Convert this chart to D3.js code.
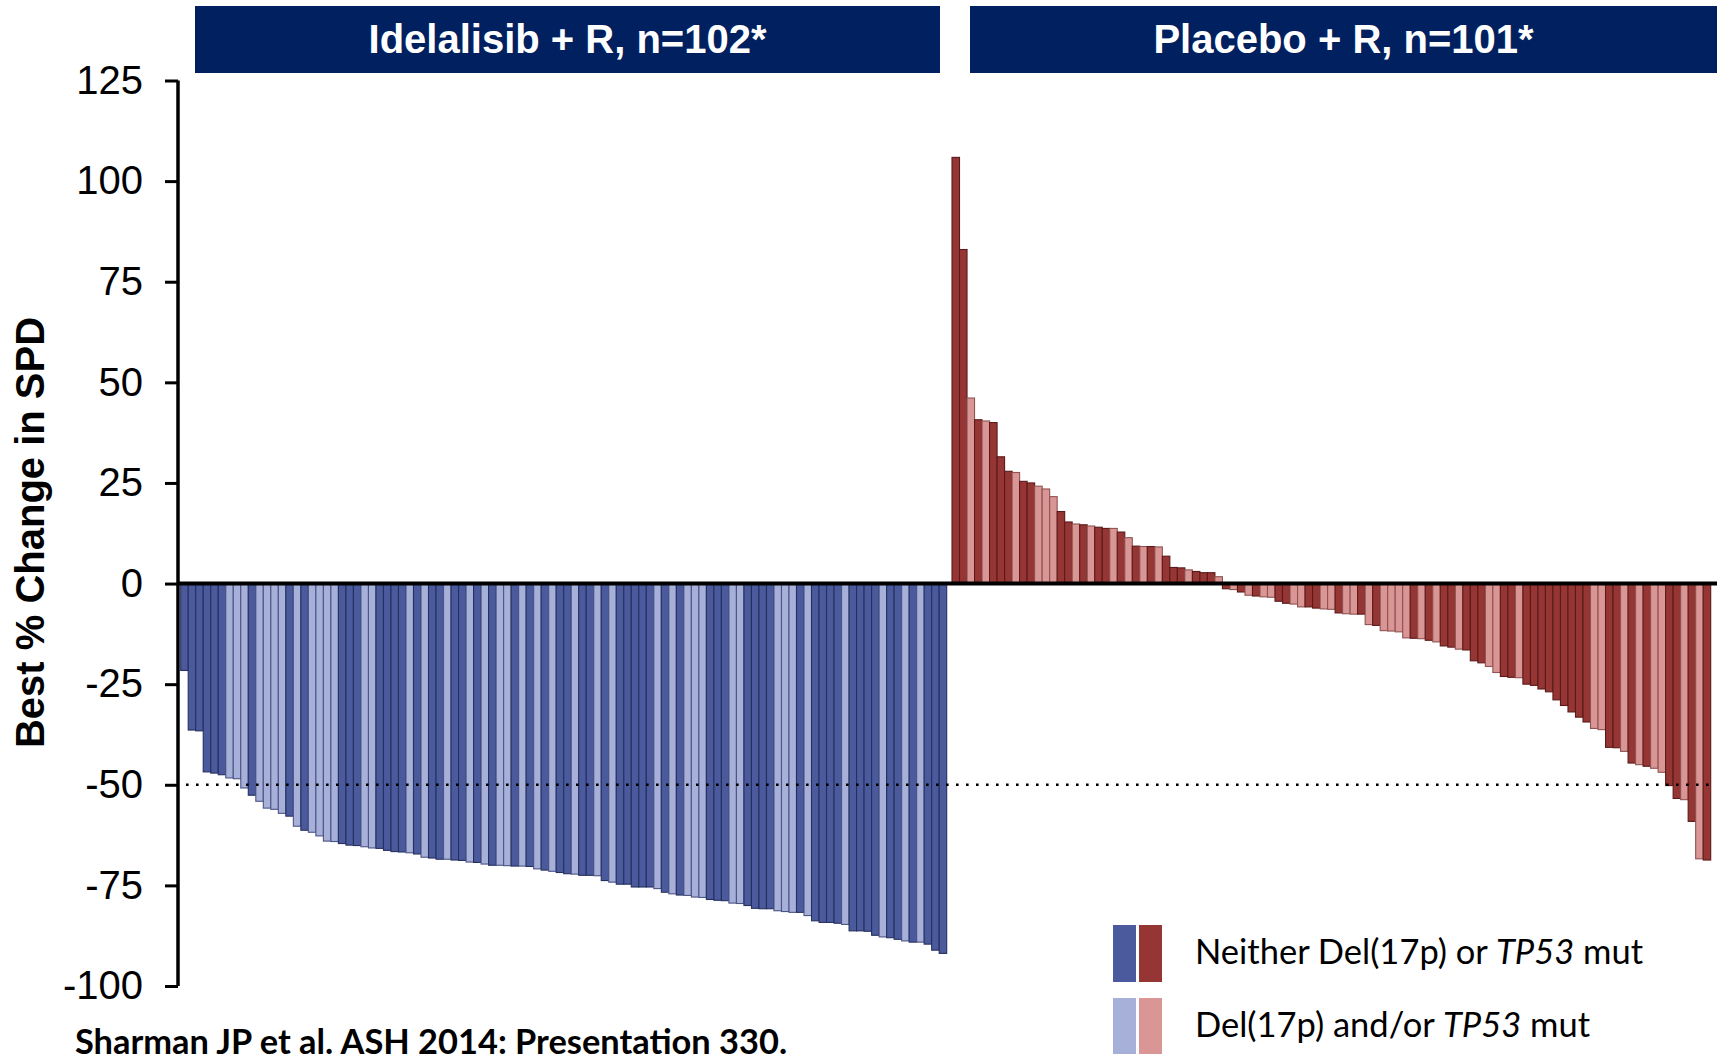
<!DOCTYPE html>
<html>
<head>
<meta charset="utf-8">
<script src="https://cdn.jsdelivr.net/npm/d3@7"></script>
<style>
  html, body { margin: 0; padding: 0; background: #fff; }
  svg { display: block; }
</style>
</head>
<body>
<svg id="chart" width="1720" height="1054"></svg>
<script>
// Best % change in SPD per patient, sorted, for each arm.
// Group: "N" = neither Del(17p) nor TP53 mutation, "D" = Del(17p) and/or TP53 mutation.
const idelalisibValues = [
  -21.6, -36.4, -36.6, -46.8, -47.1, -47.5, -48.3, -48.5, -50.8, -52.6,
  -54.1, -55.8, -56.1, -57.1, -57.8, -60.3, -61.3, -61.8, -62.7, -64.0,
  -64.1, -64.6, -65.0, -65.1, -65.4, -65.7, -65.8, -66.3, -66.6, -66.7,
  -66.9, -67.2, -68.0, -68.2, -68.5, -68.5, -68.7, -68.8, -69.2, -69.3,
  -69.7, -70.0, -70.0, -70.1, -70.2, -70.2, -70.3, -70.9, -71.2, -71.5,
  -71.8, -72.1, -72.2, -72.5, -72.5, -72.6, -73.8, -74.2, -74.7, -74.7,
  -75.4, -75.4, -75.4, -75.8, -76.7, -77.1, -77.4, -77.5, -77.9, -78.0,
  -78.5, -78.7, -78.8, -79.4, -79.5, -80.0, -80.7, -80.8, -80.8, -81.3,
  -81.5, -81.7, -81.7, -82.5, -83.8, -84.2, -84.2, -84.4, -84.7, -86.3,
  -86.3, -86.4, -87.4, -87.8, -88.0, -88.4, -88.8, -89.1, -89.1, -89.6,
  -91.1, -91.9
];
const idelalisibGroups = [
  "N","N","N","N","N","N","D","D","D","N",
  "D","D","D","D","N","D","N","D","D","D",
  "D","N","N","N","D","D","N","N","N","N",
  "D","N","D","N","N","D","N","N","D","N",
  "D","N","D","D","N","D","N","D","N","D",
  "N","N","D","N","N","D","N","D","N","N",
  "N","N","N","D","N","D","N","D","D","D",
  "N","N","N","D","D","N","N","N","N","D",
  "D","D","N","D","N","N","N","N","D","N",
  "N","N","N","D","N","N","D","N","D","N",
  "N","N"
];

const placeboValues = [
  105.9, 83.0, 46.1, 40.7, 40.4, 40.0, 31.5, 27.9, 27.6, 25.4,
  25.0, 24.2, 23.5, 21.6, 17.9, 15.3, 14.8, 14.6, 14.3, 14.0,
  13.7, 13.7, 12.8, 11.4, 9.3, 9.2, 9.2, 9.1, 6.8, 4.0,
  3.9, 3.4, 3.0, 2.7, 2.7, 1.7, -1.3, -1.5, -2.1, -2.9,
  -3.1, -3.3, -3.4, -4.4, -4.9, -5.1, -5.8, -5.8, -6.1, -6.3,
  -6.4, -7.3, -7.5, -7.6, -7.6, -10.2, -10.4, -11.7, -11.8, -12.0,
  -13.5, -13.6, -13.7, -14.1, -14.5, -15.5, -15.8, -16.3, -16.5, -19.2,
  -19.7, -20.6, -22.1, -23.1, -23.3, -23.4, -25.0, -25.3, -26.2, -26.9,
  -28.9, -30.3, -31.9, -33.2, -34.4, -36.0, -36.3, -40.7, -40.8, -41.7,
  -44.6, -45.0, -45.4, -45.9, -46.9, -50.2, -53.4, -53.7, -59.1, -68.4,
  -68.7
];
const placeboGroups = [
  "N","N","D","N","D","N","N","N","D","N",
  "N","D","D","D","N","N","D","N","D","N",
  "N","D","N","D","N","D","N","D","N","N",
  "N","D","N","N","N","D","N","D","N","D",
  "N","D","D","N","N","D","D","N","N","D",
  "D","N","D","D","N","D","N","D","D","D",
  "D","N","D","N","D","N","N","D","N","N",
  "N","D","D","N","N","D","N","N","N","N",
  "N","N","N","N","N","D","D","N","N","D",
  "N","D","N","D","D","N","N","D","N","D",
  "N"
];

const armTitles = ["Idelalisib + R, n=102*", "Placebo + R, n=101*"];
const yTickValues = [125, 100, 75, 50, 25, 0, -25, -50, -75, -100];
const yAxisTitle = "Best % Change in SPD";
const responseThreshold = -50;
const legendRows = [
  { pre: "Neither Del(17p) or ", italic: "TP53", post: " mut", group: "N" },
  { pre: "Del(17p) and/or ", italic: "TP53", post: " mut", group: "D" }
];
const footnote = "Sharman JP et al. ASH 2014: Presentation 330.";

// Colours
const fills = {
  blue: { N: "#4a5a9d", D: "#a7b0d8" },
  red:  { N: "#963634", D: "#da9694" }
};
const strokes = {
  blue: { N: "#26305e", D: "#4c5585" },
  red:  { N: "#5a1a1a", D: "#8e5352" }
};
const navy = "#002060";

const svg = d3.select("#chart");

// Scales
const y = d3.scaleLinear().domain([-100, 125]).range([986, 80.5]);
const xIdela = d3.scaleBand().domain(d3.range(idelalisibValues.length)).range([180.7, 946.7]).paddingInner(0);
const xPlacebo = d3.scaleBand().domain(d3.range(placeboValues.length)).range([952, 1710.7]).paddingInner(0);

// Arm header boxes
const headers = [
  { x0: 195, x1: 940, text: armTitles[0] },
  { x0: 970, x1: 1717, text: armTitles[1] }
];
const hg = svg.append("g");
hg.selectAll("rect").data(headers).join("rect")
  .attr("x", d => d.x0).attr("y", 6)
  .attr("width", d => d.x1 - d.x0).attr("height", 67)
  .attr("fill", navy);
hg.selectAll("text").data(headers).join("text")
  .attr("x", d => (d.x0 + d.x1) / 2).attr("y", 53)
  .attr("text-anchor", "middle")
  .attr("fill", "#fff")
  .attr("font-family", "'Liberation Sans', Arial, sans-serif")
  .attr("font-weight", "bold")
  .attr("font-size", 40)
  .text(d => d.text);

// Bars
function drawBars(values, groups, x, palette) {
  const data = values.map((v, i) => ({ i, v, g: groups[i] }));
  svg.append("g").selectAll("rect").data(data).join("rect")
    .attr("x", d => x(d.i))
    .attr("width", x.bandwidth())
    .attr("y", d => y(Math.max(0, d.v)))
    .attr("height", d => Math.abs(y(d.v) - y(0)))
    .attr("fill", d => fills[palette][d.g])
    .attr("stroke", d => strokes[palette][d.g])
    .attr("stroke-width", 1.1);
}
drawBars(idelalisibValues, idelalisibGroups, xIdela, "blue");
drawBars(placeboValues, placeboGroups, xPlacebo, "red");

// 50% reduction reference line
svg.append("line")
  .attr("x1", 186).attr("x2", 1712)
  .attr("y1", y(responseThreshold)).attr("y2", y(responseThreshold))
  .attr("stroke", "#000")
  .attr("stroke-width", 2.6)
  .attr("stroke-dasharray", "2.6,7.4");

// Zero line
svg.append("line")
  .attr("x1", 178).attr("x2", 1717)
  .attr("y1", y(0)).attr("y2", y(0))
  .attr("stroke", "#000").attr("stroke-width", 4);

// Y axis
const yAxis = d3.axisLeft(y).tickValues(yTickValues).tickSize(13).tickPadding(22)
  .tickFormat(d => String(d));
const ax = svg.append("g").attr("transform", "translate(178,0)").call(yAxis);
ax.select(".domain").attr("stroke", "#000").attr("stroke-width", 3.5)
  .attr("d", `M0,${y(125)}V${y(-100)}`);
ax.selectAll(".tick line").attr("stroke", "#000").attr("stroke-width", 3);
ax.selectAll(".tick text")
  .attr("fill", "#000")
  .attr("font-family", "'Liberation Sans', Arial, sans-serif")
  .attr("font-size", 40);

// Y axis title
svg.append("text")
  .attr("transform", `translate(44,${(318 + 747) / 2}) rotate(-90)`)
  .attr("text-anchor", "middle")
  .attr("font-family", "'Liberation Sans', Arial, sans-serif")
  .attr("font-weight", "bold")
  .attr("font-size", 40)
  .attr("fill", "#000")
  .text(yAxisTitle);

// Legend
const lg = svg.append("g");
legendRows.forEach((row, k) => {
  const top = 925 + k * 73;
  lg.append("rect").attr("x", 1113).attr("y", top).attr("width", 23).attr("height", 57)
    .attr("fill", fills.blue[row.group]);
  lg.append("rect").attr("x", 1139).attr("y", top).attr("width", 23).attr("height", 57)
    .attr("fill", fills.red[row.group]);
  const t = lg.append("text")
    .attr("x", 1195).attr("y", top + 39)
    .attr("font-family", "Lato, 'Open Sans', sans-serif")
    .attr("font-size", 34.5)
    .attr("fill", "#000");
  t.append("tspan").text(row.pre);
  t.append("tspan").attr("font-style", "italic").text(row.italic);
  t.append("tspan").text(row.post);
});

// Source note
svg.append("text")
  .attr("x", 75).attr("y", 1054)
  .attr("font-family", "Lato, 'Open Sans', sans-serif")
  .attr("font-weight", "bold")
  .attr("font-size", 34.4)
  .attr("fill", "#000")
  .text(footnote);
</script>
</body>
</html>
